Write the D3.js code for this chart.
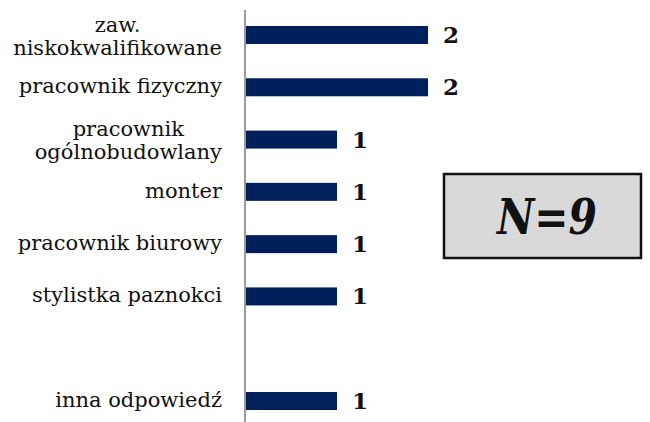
<!DOCTYPE html>
<html>
<head>
<meta charset="utf-8">
<script src="https://cdn.jsdelivr.net/npm/d3@7"></script>
<style>
  body { margin: 0; background: #fff; }
  svg { display: block; }
</style>
</head>
<body>
<div id="chart"></div>
<script>
"use strict";

// categories (the blank one is an empty slot in the original chart)
var categories = [
  ["zaw.", "niskokwalifikowane"],
  ["pracownik fizyczny"],
  ["pracownik", "ogólnobudowlany"],
  ["monter"],
  ["pracownik biurowy"],
  ["stylistka paznokci"],
  [""],
  ["inna odpowiedź"]
];
var values = [2, 2, 1, 1, 1, 1, null, 1];
var sampleLabel = "N=9";

var width = 650, height = 422;
var serif = "'DejaVu Serif', 'Liberation Serif', serif";

var svg = d3.select("#chart")
  .append("svg")
  .attr("width", width)
  .attr("height", height);

var rows = categories.map(function (c, i) {
  return { key: "c" + i, lines: c, value: values[i] };
});

// bar centres
var y = d3.scalePoint()
  .domain(rows.map(function (d) { return d.key; }))
  .range([35, 401]);

var x = d3.scaleLinear()
  .domain([0, 2])
  .range([246, 428]);

var barH = 18;

// bars
svg.selectAll("rect.bar")
  .data(rows.filter(function (d) { return d.value != null; }))
  .enter().append("rect")
  .attr("class", "bar")
  .attr("x", x(0))
  .attr("y", function (d) { return y(d.key) - barH / 2; })
  .attr("width", function (d) { return x(d.value) - x(0); })
  .attr("height", barH)
  .style("fill", "#00205b");

// vertical axis line
svg.append("line")
  .attr("x1", 245).attr("x2", 245)
  .attr("y1", 10).attr("y2", height)
  .style("stroke", "#9a9a9a")
  .style("stroke-width", 2);

// value labels
svg.selectAll("text.val")
  .data(rows.filter(function (d) { return d.value != null; }))
  .enter().append("text")
  .attr("class", "val")
  .attr("x", function (d) { return x(d.value) + 15; })
  .attr("y", function (d) { return y(d.key) + 8; })
  .style("font-family", serif)
  .style("font-weight", "bold")
  .style("font-size", "23px")
  .style("fill", "#111")
  .text(function (d) { return d.value; });

// category labels, right edge at 222, multi-line ones centred on each other
var labelRight = 222, lineH = 23;
var lab = svg.selectAll("g.lab")
  .data(rows.filter(function (d) { return d.lines[0] !== ""; }))
  .enter().append("g")
  .attr("class", "lab");

lab.each(function (d) {
  var g = d3.select(this);
  var n = d.lines.length;
  var off = n > 1 ? 8 : 6;
  var t = g.append("text")
    .style("font-family", serif)
    .style("font-size", "21px")
    .style("fill", "#111");
  d.lines.forEach(function (line, i) {
    t.append("tspan")
      .attr("y", y(d.key) + off + (i - (n - 1) / 2) * lineH)
      .text(line);
  });
  var w = 0;
  t.selectAll("tspan").each(function () {
    w = Math.max(w, this.getComputedTextLength());
  });
  if (n > 1) {
    t.attr("text-anchor", "middle");
    t.selectAll("tspan").attr("x", labelRight - w / 2);
  } else {
    t.attr("text-anchor", "end");
    t.selectAll("tspan").attr("x", labelRight);
  }
});

// sample size box
var box = svg.append("g");
box.append("rect")
  .attr("x", 444).attr("y", 174)
  .attr("width", 197).attr("height", 84)
  .style("fill", "#d9d9d9")
  .style("stroke", "#111")
  .style("stroke-width", 2.5);
box.append("text")
  .attr("x", 547).attr("y", 234)
  .attr("text-anchor", "middle")
  .attr("textLength", 100)
  .attr("lengthAdjust", "spacingAndGlyphs")
  .style("font-family", serif)
  .style("font-weight", "bold")
  .style("font-style", "italic")
  .style("font-size", "48px")
  .style("fill", "#111")
  .text(sampleLabel);
</script>
</body>
</html>
